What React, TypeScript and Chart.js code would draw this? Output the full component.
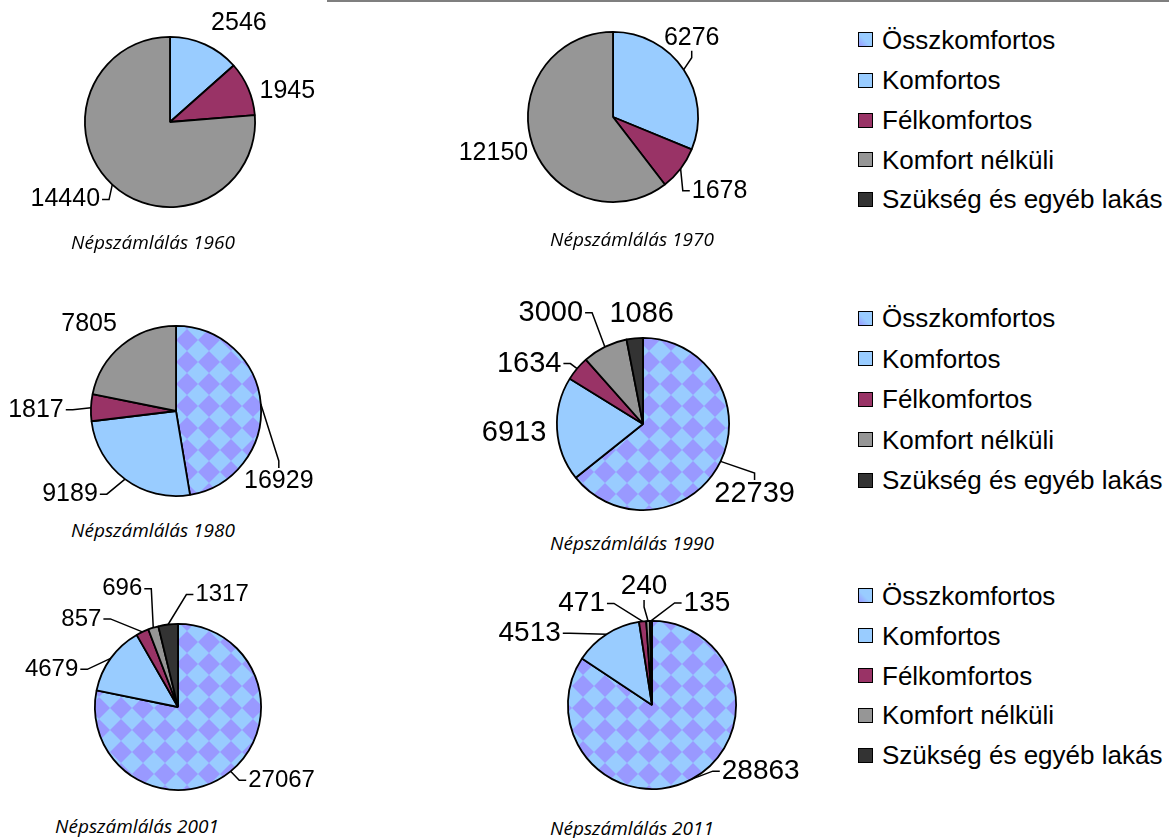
import React, { useEffect, useRef } from "react";
import { Chart, registerables } from "chart.js";

Chart.register(...registerables);

// ---- data ----
const categories = [
  "Összkomfortos",
  "Komfortos",
  "Félkomfortos",
  "Komfort nélküli",
  "Szükség és egyéb lakás",
];
const titlePrefix = "Népszámlálás";
const years = ["1960", "1970", "1980", "1990", "2001", "2011"];
const values1960 = [0, 2546, 1945, 14440, 0];
const values1970 = [0, 6276, 1678, 12150, 0];
const values1980 = [16929, 9189, 1817, 7805, 0];
const values1990 = [22739, 6913, 1634, 3000, 1086];
const values2001 = [27067, 4679, 857, 696, 1317];
const values2011 = [28863, 4513, 471, 240, 135];

// ---- styles ----
const COLOR_OSSZ_BG = "#99CCFF";
const COLOR_OSSZ_FG = "#9999FF";
const sliceColors = ["pattern", "#99CCFF", "#993366", "#969696", "#333333"];
const LABEL_FONT = '"Liberation Sans", Arial, sans-serif';

type LabelLayout = [number, number, string] | null; // dx, dy from arc mid-point, leader side

interface PieCfg {
  values: number[];
  year: string;
  box: [number, number, number, number]; // canvas left, top, width, height
  cx: number;
  cy: number;
  r: number;
  font: number;
  labels: LabelLayout[];
  title: [number, number];
}

const PIES: PieCfg[] = [
  {
    values: values1960, year: years[0], box: [0, 0, 335, 230], cx: 170, cy: 122, r: 86, font: 25,
    labels: [null, [34, -21, ""], [39, 2, ""], [-47, 15, "right"], null], title: [153, 242],
  },
  {
    values: values1970, year: years[1], box: [420, 4, 400, 226], cx: 613, cy: 117, r: 86, font: 25,
    labels: [null, [8, -32, "bottom"], [39, 22, "left"], [-39, 9, ""], null], title: [632, 239],
  },
  {
    values: values1980, year: years[2], box: [0, 285, 335, 232], cx: 176, cy: 411, r: 86, font: 25,
    labels: [[18, 77, "top"], [-55, 15, "right"], [-55, 2, "right"], [-33, -21, ""], null], title: [153, 530],
  },
  {
    values: values1990, year: years[3], box: [440, 285, 390, 240], cx: 643, cy: 424, r: 87, font: 29,
    labels: [[34, 33, "top"], [-43, 4, ""], [-48, -5, "right"], [-54, -34, "right"], [7, -24, ""]], title: [632, 543],
  },
  {
    values: values2001, year: years[4], box: [0, 565, 335, 245], cx: 178, cy: 707, r: 84, font: 24,
    labels: [[51, 9, "left"], [-59, 11, "right"], [-61, -13, "right"], [-31, -39, "right"], [54, -30, "left"]], title: [137, 826],
  },
  {
    values: values2011, year: years[5], box: [440, 565, 390, 245], cx: 652, cy: 705, r: 85, font: 28,
    labels: [[69, -8, "left"], [-77, -1, "right"], [-61, -18, "right"], [-4, -35, "bottom"], [56, -18, "left"]], title: [632, 828],
  },
];

const LEGEND_ROWS = [
  [39.5, 80, 120, 159.5, 199],
  [318, 358.5, 399, 439.5, 480],
  [595.5, 635.5, 675.5, 715, 755],
];

function makePattern(): CanvasPattern | string {
  const size = 22;
  const c = document.createElement("canvas");
  c.width = size;
  c.height = size;
  const g = c.getContext("2d");
  if (!g) return COLOR_OSSZ_BG;
  g.fillStyle = COLOR_OSSZ_BG;
  g.fillRect(0, 0, size, size);
  g.fillStyle = COLOR_OSSZ_FG;
  g.beginPath();
  g.moveTo(size / 2, 0);
  g.lineTo(size, size / 2);
  g.lineTo(size / 2, size);
  g.lineTo(0, size / 2);
  g.closePath();
  g.fill();
  const p = g.createPattern(c, "repeat");
  return p || COLOR_OSSZ_BG;
}

function labelPlugin(cfg: PieCfg) {
  return {
    id: "valueLabels" + cfg.year,
    afterDatasetsDraw(chart: any) {
      const ctx = chart.ctx as CanvasRenderingContext2D;
      const meta = chart.getDatasetMeta(0);
      ctx.save();
      ctx.font = `${cfg.font}px ${LABEL_FONT}`;
      ctx.fillStyle = "#000";
      ctx.strokeStyle = "#000";
      ctx.lineWidth = 1.5;
      ctx.textAlign = "center";
      ctx.textBaseline = "middle";
      meta.data.forEach((arc: any, i: number) => {
        const v = cfg.values[i];
        const lay = cfg.labels[i];
        if (!v || !lay) return;
        const p = arc.getProps(["x", "y", "startAngle", "endAngle", "outerRadius"], true);
        const mid = (p.startAngle + p.endAngle) / 2;
        const ax = p.x + Math.cos(mid) * p.outerRadius;
        const ay = p.y + Math.sin(mid) * p.outerRadius;
        const lx = ax + lay[0];
        const ly = ay + lay[1];
        const text = String(v);
        ctx.fillText(text, lx, ly);
        const tw = ctx.measureText(text).width;
        const side = lay[2];
        if (side) {
          let ex = lx, ey = ly, bx = lx, by = ly;
          const half = cfg.font * 0.36;
          if (side === "right") { ex = lx + tw / 2 + 2; bx = ex + 7; }
          else if (side === "left") { ex = lx - tw / 2 - 2; bx = ex - 7; }
          else if (side === "top") { ey = ly - half - 4; by = ey - 7; }
          else if (side === "bottom") { ey = ly + half + 4; by = ey + 7; }
          ctx.beginPath();
          ctx.moveTo(ax, ay);
          ctx.lineTo(bx, by);
          ctx.lineTo(ex, ey);
          ctx.stroke();
        }
      });
      ctx.restore();
    },
  };
}

function PieChart({ cfg }: { cfg: PieCfg }) {
  const ref = useRef<HTMLCanvasElement>(null);
  const [bx, by, bw, bh] = cfg.box;
  useEffect(() => {
    if (!ref.current) return;
    const pattern = makePattern();
    const bg = sliceColors.map((c) => (c === "pattern" ? pattern : c));
    const chart = new Chart(ref.current, {
      type: "pie",
      data: {
        labels: categories,
        datasets: [
          {
            data: cfg.values,
            backgroundColor: bg as any,
            borderColor: "#000",
            borderWidth: 1.8,
            hoverOffset: 0,
            offset: 0,
          },
        ],
      },
      options: {
        responsive: false,
        animation: false,
        events: [],
        layout: {
          padding: {
            left: cfg.cx - cfg.r - bx,
            right: bx + bw - (cfg.cx + cfg.r),
            top: cfg.cy - cfg.r - by,
            bottom: by + bh - (cfg.cy + cfg.r),
          },
        },
        plugins: {
          legend: { display: false },
          tooltip: { enabled: false },
          title: { display: false },
        },
      },
      plugins: [labelPlugin(cfg)],
    });
    return () => chart.destroy();
  }, []);
  return (
    <canvas
      ref={ref}
      width={bw}
      height={bh}
      style={{ position: "absolute", left: bx, top: by, width: bw, height: bh }}
    />
  );
}

function Legend({ rows }: { rows: number[] }) {
  return (
    <>
      {categories.map((c, i) => (
        <React.Fragment key={c}>
          <div
            style={{
              position: "absolute",
              left: 858,
              top: rows[i] - 7.5,
              width: 15,
              height: 15,
              boxSizing: "border-box",
              border: "1.5px solid #000",
              background:
                i === 0
                  ? `linear-gradient(45deg, ${COLOR_OSSZ_FG} 0%, ${COLOR_OSSZ_BG} 45%)`
                  : sliceColors[i],
            }}
          />
          <div
            style={{
              position: "absolute",
              left: 882,
              top: rows[i] - 15,
              height: 30,
              lineHeight: "30px",
              fontFamily: LABEL_FONT,
              fontSize: 26,
              color: "#000",
              whiteSpace: "nowrap",
            }}
          >
            {c}
          </div>
        </React.Fragment>
      ))}
    </>
  );
}

export default function App() {
  return (
    <div
      style={{
        position: "absolute",
        left: 0,
        top: 0,
        width: 1169,
        height: 838,
        background: "#fff",
        overflow: "hidden",
      }}
    >
      {PIES.map((p) => (
        <PieChart key={p.year} cfg={p} />
      ))}
      {PIES.map((p) => (
        <div
          key={"t" + p.year}
          style={{
            position: "absolute",
            left: p.title[0] - 150,
            top: p.title[1] - 12,
            width: 300,
            height: 24,
            lineHeight: "24px",
            textAlign: "center",
            fontFamily: '"Open Sans", sans-serif',
            fontStyle: "italic",
            fontSize: 19,
            color: "#000",
          }}
        >
          {titlePrefix} {p.year}
        </div>
      ))}
      {LEGEND_ROWS.map((rows, k) => (
        <Legend key={k} rows={rows} />
      ))}
      <div
        style={{
          position: "absolute",
          left: 327,
          top: 0,
          width: 842,
          height: 1.5,
          background: "#7f7f7f",
        }}
      />
    </div>
  );
}
